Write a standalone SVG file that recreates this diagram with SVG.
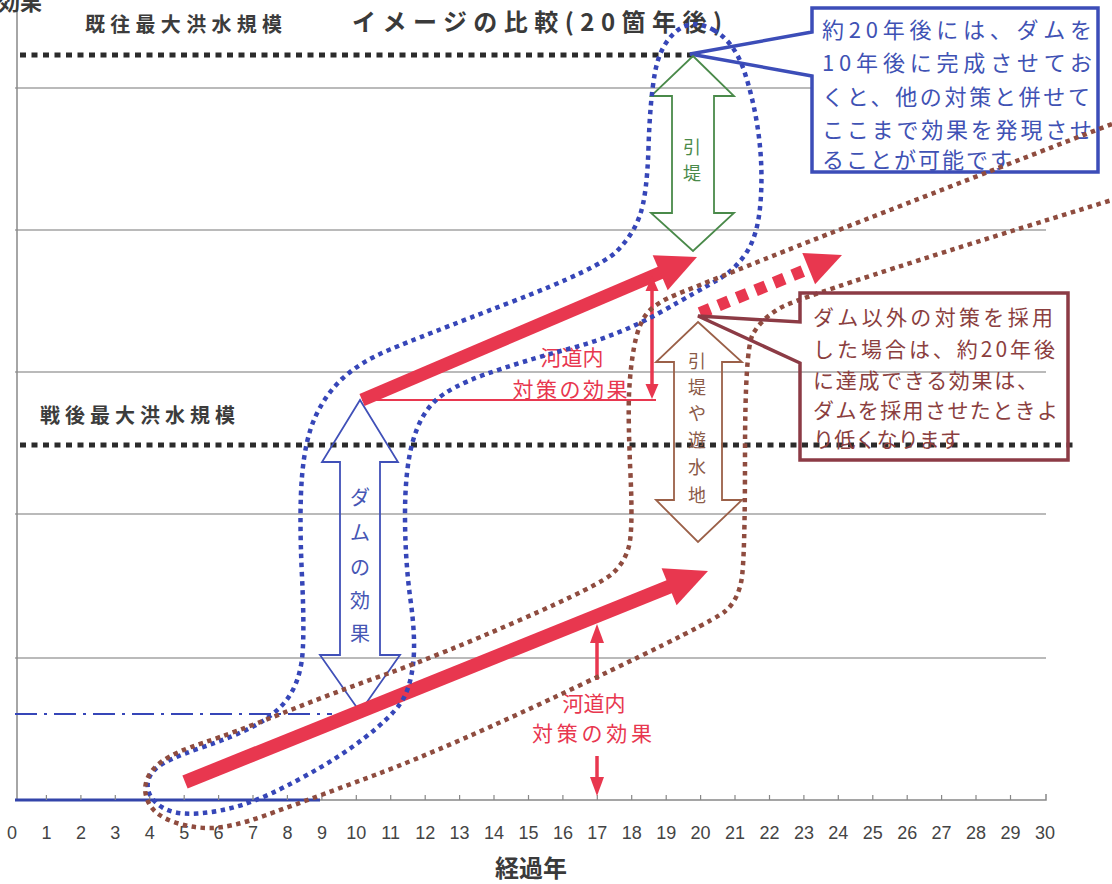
<svg xmlns="http://www.w3.org/2000/svg" width="1112" height="884" viewBox="0 0 1112 884">
<style>
.jp{font-family:'Noto Sans CJK JP','Noto Sans CJK SC',sans-serif}
.num{font-family:'Liberation Sans',Arial,sans-serif;font-size:18px;fill:#444;text-anchor:middle}
.grid{stroke:#777;stroke-width:1.2;fill:none}
.bdot{stroke:#2b2b2b;stroke-width:5;stroke-dasharray:6 5.5;fill:none}
.loopb{fill:none;stroke:#3646b8;stroke-width:4.5;stroke-dasharray:4.5 4.5}
.loopr{fill:none;stroke:#8f4c3f;stroke-width:4.5;stroke-dasharray:4.5 4.5}
.red{fill:#e8374f}
.redl{stroke:#e8374f;fill:none}
.lbl{font-size:20px;font-weight:700;fill:#3c3c3c}
.vt{text-anchor:middle}
</style>
<rect width="1112" height="884" fill="#fff"/>
<g id="axes">
<path class="grid" d="M15,88H1046M15,230H1046M15,372H1046M15,514H1046M15,658H1046"/>
<path d="M17,0V800" stroke="#888" stroke-width="1.5"/>
<path d="M15,800H1046V794" stroke="#888" stroke-width="1.5" fill="none"/>
<path d="M15,800H320" stroke="#3344aa" stroke-width="3"/>
<path stroke="#888" stroke-width="1.2" d="M46.4,800v-5M80.9,800v-5M115.3,800v-5M149.7,800v-5M184.2,800v-5M218.6,800v-5M253,800v-5M287.4,800v-5M321.9,800v-5M356.3,800v-5M390.7,800v-5M425.2,800v-5M459.6,800v-5M494,800v-5M528.5,800v-5M562.9,800v-5M597.3,800v-5M631.7,800v-5M666.2,800v-5M700.6,800v-5M735,800v-5M769.5,800v-5M803.9,800v-5M838.3,800v-5M872.8,800v-5M907.2,800v-5M941.6,800v-5M976,800v-5M1010.5,800v-5"/>
<g class="num">
<text x="12" y="839">0</text><text x="46.4" y="839">1</text><text x="80.9" y="839">2</text><text x="115.3" y="839">3</text><text x="149.7" y="839">4</text><text x="184.2" y="839">5</text><text x="218.6" y="839">6</text><text x="253" y="839">7</text><text x="287.4" y="839">8</text><text x="321.9" y="839">9</text><text x="356.3" y="839">10</text><text x="390.7" y="839">11</text><text x="425.2" y="839">12</text><text x="459.6" y="839">13</text><text x="494" y="839">14</text><text x="528.5" y="839">15</text><text x="562.9" y="839">16</text><text x="597.3" y="839">17</text><text x="631.7" y="839">18</text><text x="666.2" y="839">19</text><text x="700.6" y="839">20</text><text x="735" y="839">21</text><text x="769.5" y="839">22</text><text x="803.9" y="839">23</text><text x="838.3" y="839">24</text><text x="872.8" y="839">25</text><text x="907.2" y="839">26</text><text x="941.6" y="839">27</text><text x="976" y="839">28</text><text x="1010.5" y="839">29</text><text x="1044.9" y="839">30</text>
</g>
<text class="jp" x="-2" y="10" font-size="22" font-weight="700" fill="#3a3a3a">効果</text>
<text class="jp" x="531" y="877" font-size="24" font-weight="700" fill="#3a3a3a" text-anchor="middle">経過年</text>
</g>
<g id="title">
<text class="jp" x="352" y="31" font-size="24" font-weight="700" fill="#3a3a3a" textLength="370" lengthAdjust="spacing">イメージの比較(20箇年後)</text>
</g>
<g id="levels">
<path class="bdot" d="M20,55H696"/>
<path class="bdot" d="M20,445H1076"/>
<text class="jp lbl" x="85" y="32" textLength="197" lengthAdjust="spacing">既往最大洪水規模</text>
<text class="jp lbl" x="40" y="423" textLength="195" lengthAdjust="spacing">戦後最大洪水規模</text>
<path d="M15,714H332" stroke="#3646b8" stroke-width="2" stroke-dasharray="22 7 3 7" fill="none"/>
</g>
<g id="callout-dam">
<path d="M812,8H1098V172H812V76L690,54L812,32Z" fill="#fff" stroke="#3c4db8" stroke-width="3.5" stroke-linejoin="miter"/>
<g class="jp" font-size="22" fill="#3f52b4">
<text x="822" y="38" textLength="270" lengthAdjust="spacing">約20年後には、ダムを</text>
<text x="822" y="71" textLength="270" lengthAdjust="spacing">10年後に完成させてお</text>
<text x="822" y="105" textLength="268" lengthAdjust="spacing">くと、他の対策と併せて</text>
<text x="822" y="138" textLength="270" lengthAdjust="spacing">ここまで効果を発現させ</text>
<text x="822" y="168" textLength="190" lengthAdjust="spacing">ることが可能です</text>
</g>
</g>
<g id="arrow-dam">
<polygon points="360,400 398,462 380,462 380,655 400,655 360,712 320,655 340,655 340,462 322,462" fill="none" stroke="#4050b8" stroke-width="1.8"/>
<text class="jp vt" font-size="20" fill="#4656b4"><tspan x="360" y="505">ダ</tspan><tspan x="360" y="540">ム</tspan><tspan x="360" y="575">の</tspan><tspan x="360" y="608">効</tspan><tspan x="360" y="641">果</tspan></text>
</g>
<g id="arrow-hikitei">
<polygon points="693,56 734,96 714,96 714,213 734,213 693,251 651,213 672,213 672,96 651,96" fill="none" stroke="#4a8a4a" stroke-width="1.8"/>
<text class="jp vt" font-size="18" fill="#4a8a4a"><tspan x="692" y="154">引</tspan><tspan x="692" y="180">堤</tspan></text>
</g>
<g id="arrow-other">
<polygon points="698,322 742,362 722,362 722,500 742,500 698,542 656,500 674,500 674,362 656,362" fill="none" stroke="#9b6048" stroke-width="1.8"/>
<text class="jp vt" font-size="18" fill="#8b5a48"><tspan x="697" y="368">引</tspan><tspan x="697" y="394">堤</tspan><tspan x="697" y="420">や</tspan><tspan x="697" y="447">遊</tspan><tspan x="697" y="474">水</tspan><tspan x="697" y="502">地</tspan></text>
</g>
<g id="connectors">
<line x1="185" y1="782" x2="671" y2="586" class="redl" stroke-width="14"/>
<polygon class="red" points="708,571 676.6,605.2 661.6,568.2"/>
<line x1="362" y1="400" x2="661" y2="272.5" class="redl" stroke-width="13"/>
<polygon class="red" points="697,257 667.7,290.2 652.7,255.2"/>
<line x1="700" y1="313" x2="809" y2="268.6" class="redl" stroke-width="12" stroke-dasharray="11 9"/>
<polygon class="red" points="842,255 815.1,284.3 802.3,252.9"/>
<line x1="362" y1="400" x2="656" y2="400" class="redl" stroke-width="2"/>
<line x1="652" y1="288" x2="652" y2="388" class="redl" stroke-width="3.5"/>
<polygon class="red" points="652,276 658.5,291 645.5,291"/>
<polygon class="red" points="652,399 658.5,384 645.5,384"/>
<line x1="597" y1="640" x2="597" y2="680" class="redl" stroke-width="3.5"/>
<polygon class="red" points="597,624 604,643 590,643"/>
<line x1="597" y1="756" x2="597" y2="780" class="redl" stroke-width="3.5"/>
<polygon class="red" points="597,796 604,777 590,777"/>
</g>
<g id="label-kadounai-upper" class="jp" font-size="21" fill="#e8374f">
<text x="572" y="365" text-anchor="middle">河道内</text>
<text x="570" y="397" text-anchor="middle" textLength="115" lengthAdjust="spacing">対策の効果</text>
</g>
<g id="label-kadounai-lower" class="jp" font-size="21" fill="#e8374f">
<text x="594" y="711" text-anchor="middle">河道内</text>
<text x="592" y="741" text-anchor="middle" textLength="120" lengthAdjust="spacing">対策の効果</text>
</g>
<g id="loops">
<path class="loopb" d="M713.5,30Q735,42 745,73.5Q755,105 759,137.5Q763,170 760.5,202.5Q758,235 746.5,252.5Q735,270 717.5,280Q700,290 660,312.5Q620,335 570,348.5Q520,362 485,374.5Q450,387 435,401Q420,415 412.5,442.5Q405,470 405,515Q405,560 410.5,600Q416,640 413,665Q410,690 400,704Q390,718 365,737.5Q340,757 303.5,777Q267,797 243.5,804.5Q220,812 197.5,813.5Q175,815 162.5,807.5Q150,800 148,789Q146,778 155.5,769Q165,760 199,748.5Q233,737 254,726Q275,715 286.5,700Q298,685 301.5,662.5Q305,640 302,576.5Q299,513 302,476.5Q305,440 315,417.5Q325,395 342.5,378.5Q360,362 390,349.5Q420,337 510,302.5Q600,268 616.5,251.5Q633,235 640,215Q647,195 648.5,147.5Q650,100 655,72.5Q660,45 676,31.5Q692,18 713.5,30Z"/>
<path class="loopr" d="M1112,124Q830,233 765,259Q700,285 677.5,294Q655,303 646.5,314Q638,325 634,347.5Q630,370 629,395Q628,420 630.5,475Q633,530 629,546Q625,562 612.5,573.5Q600,585 520,620Q440,655 386.5,674Q333,693 283,713Q233,733 204,742.5Q175,752 162.5,761Q150,770 146.5,781Q143,792 149,803.5Q155,815 172.5,821.5Q190,828 210,828Q230,828 265,815.5Q300,803 375,775Q450,747 581.5,684.5Q713,622 725.5,611Q738,600 741.5,580Q745,560 745,455Q745,350 752.5,335Q760,320 780,308Q800,296 1112,200"/>
</g>
<g id="callout-other">
<path d="M800,293H1068V460H800V363L698,316L800,322Z" fill="none" stroke="#8c3b45" stroke-width="3.5"/>
<g class="jp" font-size="21" fill="#8b3f3f">
<text x="813" y="325" textLength="240" lengthAdjust="spacing">ダム以外の対策を採用</text>
<text x="813" y="357" textLength="242" lengthAdjust="spacing">した場合は、約20年後</text>
<text x="813" y="388" textLength="225" lengthAdjust="spacing">に達成できる効果は、</text>
<text x="813" y="418" textLength="245" lengthAdjust="spacing">ダムを採用させたときよ</text>
<text x="813" y="447" textLength="148" lengthAdjust="spacing">り低くなります</text>
</g>
</g>
</svg>
